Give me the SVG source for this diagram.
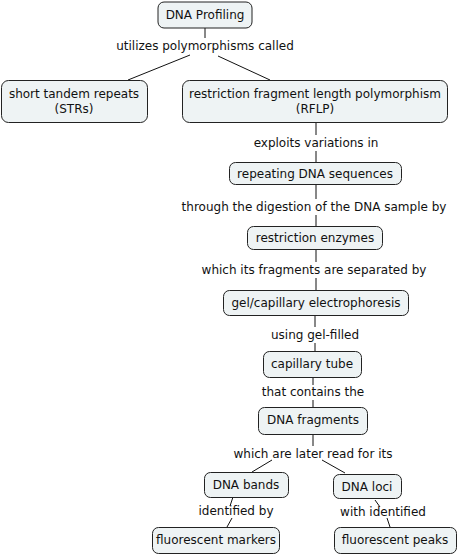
<svg xmlns="http://www.w3.org/2000/svg" width="458" height="556" viewBox="0 0 458 556">
<style>
.n{fill:#eef3f4;stroke:#222;stroke-width:1}
text{font-family:"DejaVu Sans",Verdana,sans-serif;font-size:12px;fill:#111;text-anchor:middle;dominant-baseline:central}
.c{stroke:#111;stroke-width:1;fill:none}
</style>
<rect width="458" height="556" fill="#fff"/>
<g id="connectors">
<path class="c" d="M205 28V38"/>
<path class="c" d="M190 55L128 80M218 56L270 80"/>
<path class="c" d="M316 123V135M316 151V162"/>
<path class="c" d="M316 184V199M316 215V226"/>
<path class="c" d="M316 249V262M316 278V290"/>
<path class="c" d="M315 315V327M315 343V351"/>
<path class="c" d="M313 377V385M313 400V407"/>
<path class="c" d="M313 434V446"/>
<path class="c" d="M272 460L252 472M322 460L345 473"/>
<path class="c" d="M233 497L230 506M232 518L227 527"/>
<path class="c" d="M375 500L380 507M387 518L390 527"/>
</g>
<g id="labels">
<text x="205" y="46">utilizes polymorphisms called</text>
<text x="316" y="143">exploits variations in</text>
<text x="314" y="207">through the digestion of the DNA sample by</text>
<text x="314" y="270">which its fragments are separated by</text>
<text x="315" y="335">using gel-filled</text>
<text x="313" y="392">that contains the</text>
<text x="313" y="454">which are later read for its</text>
<text x="236" y="511">identified by</text>
<text x="383" y="512">with identified</text>
</g>
<g id="dna-profiling"><rect class="n" x="158" y="2" width="94" height="26" rx="6"/><text x="205" y="15">DNA Profiling</text></g>
<g id="strs"><rect class="n" x="1.5" y="80.5" width="146" height="42" rx="7"/><text x="74" y="94">short tandem repeats</text><text x="74" y="109">(STRs)</text></g>
<g id="rflp"><rect class="n" x="182.5" y="80.5" width="265" height="42" rx="7"/><text x="315" y="94">restriction fragment length polymorphism</text><text x="315" y="109">(RFLP)</text></g>
<g id="repeating"><rect class="n" x="229.5" y="162.5" width="172" height="22" rx="6"/><text x="315" y="174">repeating DNA sequences</text></g>
<g id="enzymes"><rect class="n" x="247.5" y="226.5" width="135" height="23" rx="6"/><text x="315" y="238">restriction enzymes</text></g>
<g id="electrophoresis"><rect class="n" x="223.5" y="290.5" width="185" height="25" rx="6"/><text x="316" y="303">gel/capillary electrophoresis</text></g>
<g id="capillary"><rect class="n" x="263.5" y="351.5" width="98" height="26" rx="6"/><text x="312" y="364">capillary tube</text></g>
<g id="fragments"><rect class="n" x="258.5" y="407.5" width="109" height="27" rx="6"/><text x="313" y="420">DNA fragments</text></g>
<g id="bands"><rect class="n" x="204.5" y="472.5" width="84" height="25" rx="6"/><text x="246" y="485">DNA bands</text></g>
<g id="loci"><rect class="n" x="333.5" y="474.5" width="68" height="24" rx="6"/><text x="367" y="487">DNA loci</text></g>
<g id="markers"><rect class="n" x="152.5" y="527.5" width="127" height="26" rx="6"/><text x="216" y="540">fluorescent markers</text></g>
<g id="peaks"><rect class="n" x="334.5" y="527.5" width="122" height="26" rx="6"/><text x="395" y="540">fluorescent peaks</text></g>
</svg>
